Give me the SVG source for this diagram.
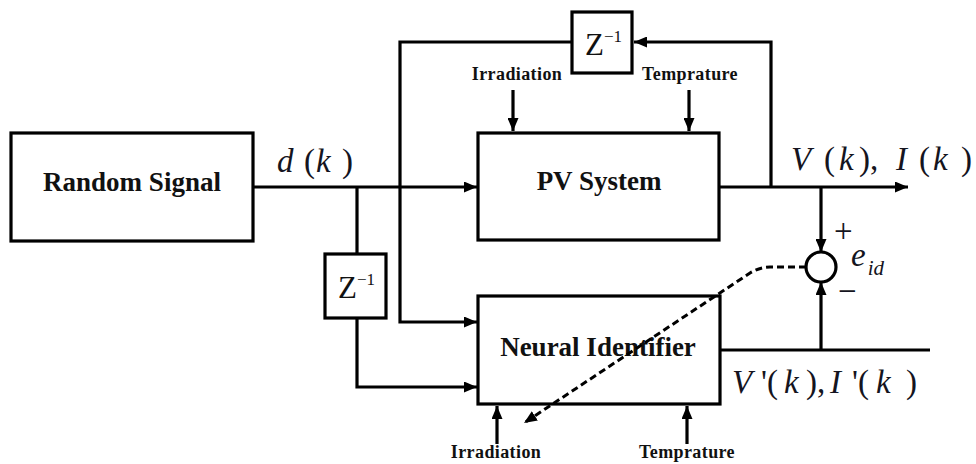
<svg xmlns="http://www.w3.org/2000/svg" width="976" height="464" viewBox="0 0 976 464">
<style>
.box{fill:#fff;stroke:#000;stroke-width:3.2}
.ln{fill:none;stroke:#000;stroke-width:3.2}
.dash{fill:none;stroke:#000;stroke-width:3;stroke-dasharray:7 4}
.lbl{font-family:"Liberation Serif","Times New Roman",serif;font-weight:bold;fill:#111}
.big{font-size:27px;text-anchor:middle}
.sm{font-size:18px;text-anchor:middle;letter-spacing:0.4px}
.math{font-family:"Liberation Serif","Times New Roman",serif;fill:#141420;font-size:33px}
.it{font-style:italic}
.z{font-family:"Liberation Serif","Times New Roman",serif;fill:#111;font-size:31px}
.sup{font-size:17px}
</style>
<defs>
<marker id="ah" markerUnits="userSpaceOnUse" markerWidth="13" markerHeight="11" refX="13" refY="5.5" orient="auto">
<path d="M0,0 L13,5.5 L0,11 z" fill="#000"/>
</marker>
</defs>

<g id="random-signal">
<rect class="box" x="11" y="133" width="242" height="108"/>
<text class="lbl big" x="132" y="191">Random Signal</text>
</g>

<g id="pv-system">
<rect class="box" x="478" y="133" width="241" height="107"/>
<text class="lbl big" x="599" y="190">PV System</text>
</g>

<g id="neural-identifier">
<rect class="box" x="478" y="296" width="242" height="108"/>
<text class="lbl big" x="598" y="356">Neural Identifier</text>
</g>

<g id="delay-top">
<rect class="box" x="572" y="12" width="60" height="61"/>
<text class="z" x="585" y="55">Z<tspan class="sup" dy="-13">−1</tspan></text>
</g>

<g id="delay-left">
<rect class="box" x="325" y="254" width="61" height="64"/>
<text class="z" x="338" y="298">Z<tspan class="sup" dy="-13">−1</tspan></text>
</g>

<g id="summer">
<circle cx="821" cy="267" r="15" fill="#fff" stroke="#000" stroke-width="3.2"/>
<text class="math" x="834" y="242" font-size="22">+</text>
<text class="math" x="838" y="302" font-size="22">−</text>
<text class="math it" x="851" y="266" font-size="31">e<tspan font-size="21" dx="2" dy="9">id</tspan></text>
</g>

<g id="connectors">
<path class="ln" d="M253,187 H477" marker-end="url(#ah)"/>
<path class="ln" d="M357,187 V254"/>
<path class="ln" d="M357,318 V387 H477" marker-end="url(#ah)"/>
<path class="ln" d="M719,187 H908" marker-end="url(#ah)"/>
<path class="ln" d="M771,187 V42 H634" marker-end="url(#ah)"/>
<path class="ln" d="M572,42 H400 V322 H477" marker-end="url(#ah)"/>
<path class="ln" d="M821,187 V252" marker-end="url(#ah)"/>
<path class="ln" d="M720,350 H930"/>
<path class="ln" d="M821,350 V282" marker-end="url(#ah)"/>
<path class="ln" d="M513,90 V131" marker-end="url(#ah)"/>
<path class="ln" d="M689,90 V131" marker-end="url(#ah)"/>
<path class="ln" d="M497,444 V406" marker-end="url(#ah)"/>
<path class="ln" d="M687,444 V406" marker-end="url(#ah)"/>
<path class="dash" d="M806,267 H770 Q760,267 750,273 L524,423" marker-end="url(#ah)"/>
</g>

<g id="labels">
<text class="lbl sm" x="517" y="80">Irradiation</text>
<text class="lbl sm" x="690" y="80">Temprature</text>
<text class="lbl sm" x="496" y="458">Irradiation</text>
<text class="lbl sm" x="687" y="458">Temprature</text>
<text class="math" y="172" font-size="31"><tspan class="it" x="277">d</tspan><tspan x="304">(</tspan><tspan class="it" x="316">k</tspan><tspan x="342">)</tspan></text>
<text class="math" y="170"><tspan class="it" x="791">V</tspan><tspan x="824">(</tspan><tspan class="it" x="839">k</tspan><tspan x="859">),</tspan><tspan class="it" x="896">I</tspan><tspan x="919">(</tspan><tspan class="it" x="933">k</tspan><tspan x="961">)</tspan></text>
<text class="math" y="393"><tspan class="it" x="732">V</tspan><tspan x="761">'(</tspan><tspan class="it" x="784">k</tspan><tspan x="806">),</tspan><tspan class="it" x="830">I</tspan><tspan x="852">'(</tspan><tspan class="it" x="876">k</tspan><tspan x="906">)</tspan></text>
</g>
</svg>
